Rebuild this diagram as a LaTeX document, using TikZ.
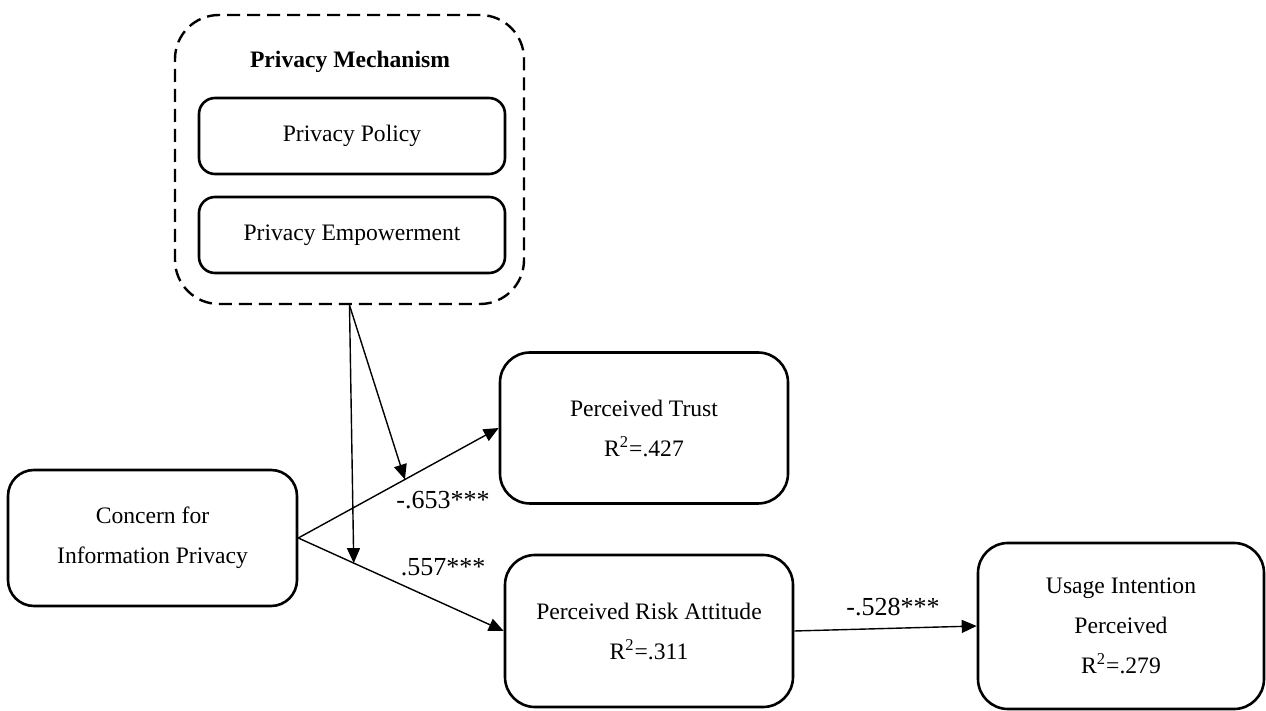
\documentclass[tikz,border=0pt]{standalone}
\usepackage{fontspec}
\setmainfont{Liberation Serif}
\usetikzlibrary{arrows.meta}
\begin{document}
\begin{tikzpicture}[x=0.5pt,y=-0.5pt,
  box/.style={draw, line width=1.3pt, rounded corners=#1, align=center, inner sep=0pt,
    font=\fontsize{11.8}{20}\selectfont},
  box/.default=14pt,
  dbox/.style={draw, line width=1.2pt, dash pattern=on 6.5pt off 3.5pt, rounded corners=22pt, inner sep=0pt},
  conn/.style={line width=0.7pt, -{Triangle[length=7.5pt,width=6.5pt]}},
  coef/.style={font=\fontsize{13}{15}\selectfont, inner sep=0pt},
]
\useasboundingbox (0,0) rectangle (1266,711);

% moderator group
\node[dbox, minimum width=174.5pt, minimum height=144.5pt] (mech) at (349.5,159.5) {};
\node[font=\fontsize{11.8}{14}\selectfont\bfseries, inner sep=0pt] (title) at (350,62) {Privacy Mechanism};
\node[box=8pt, minimum width=153pt, minimum height=38pt] (policy) at (352,136) {Privacy Policy};
\node[box=8pt, minimum width=153pt, minimum height=38pt] (empower) at (352,235) {Privacy Empowerment};

% constructs
\node[box=13pt, minimum width=144.5pt, minimum height=68pt] (cfip) at (152.5,538) {Concern for\\Information Privacy};
\node[box=15pt, minimum width=144pt, minimum height=75.5pt] (trust) at (644,428) {Perceived Trust\\R\textsuperscript{2}=.427};
\node[box=15pt, minimum width=144pt, minimum height=76pt] (risk) at (649,631) {Perceived Risk Attitude\\R\textsuperscript{2}=.311};
\node[box=15pt, minimum width=143pt, minimum height=83pt] (usage) at (1121,626) {Usage Intention\\Perceived\\R\textsuperscript{2}=.279};

% paths
\draw[conn] (cfip.east) -- coordinate[pos=0.532] (m1) (trust.west);
\draw[conn] (cfip.east) -- coordinate[pos=0.27] (m2) (risk.west);
\draw[conn] (risk.east) -- (usage.west);

% moderation
\draw[conn] (mech.south) -- (m1);
\draw[conn] (mech.south) -- (m2);

% coefficients
\node[coef] (c1) at (443,500) {-.653***};
\node[coef] (c2) at (443,567) {.557***};
\node[coef] (c3) at (893,607) {-.528***};
\end{tikzpicture}
\end{document}
